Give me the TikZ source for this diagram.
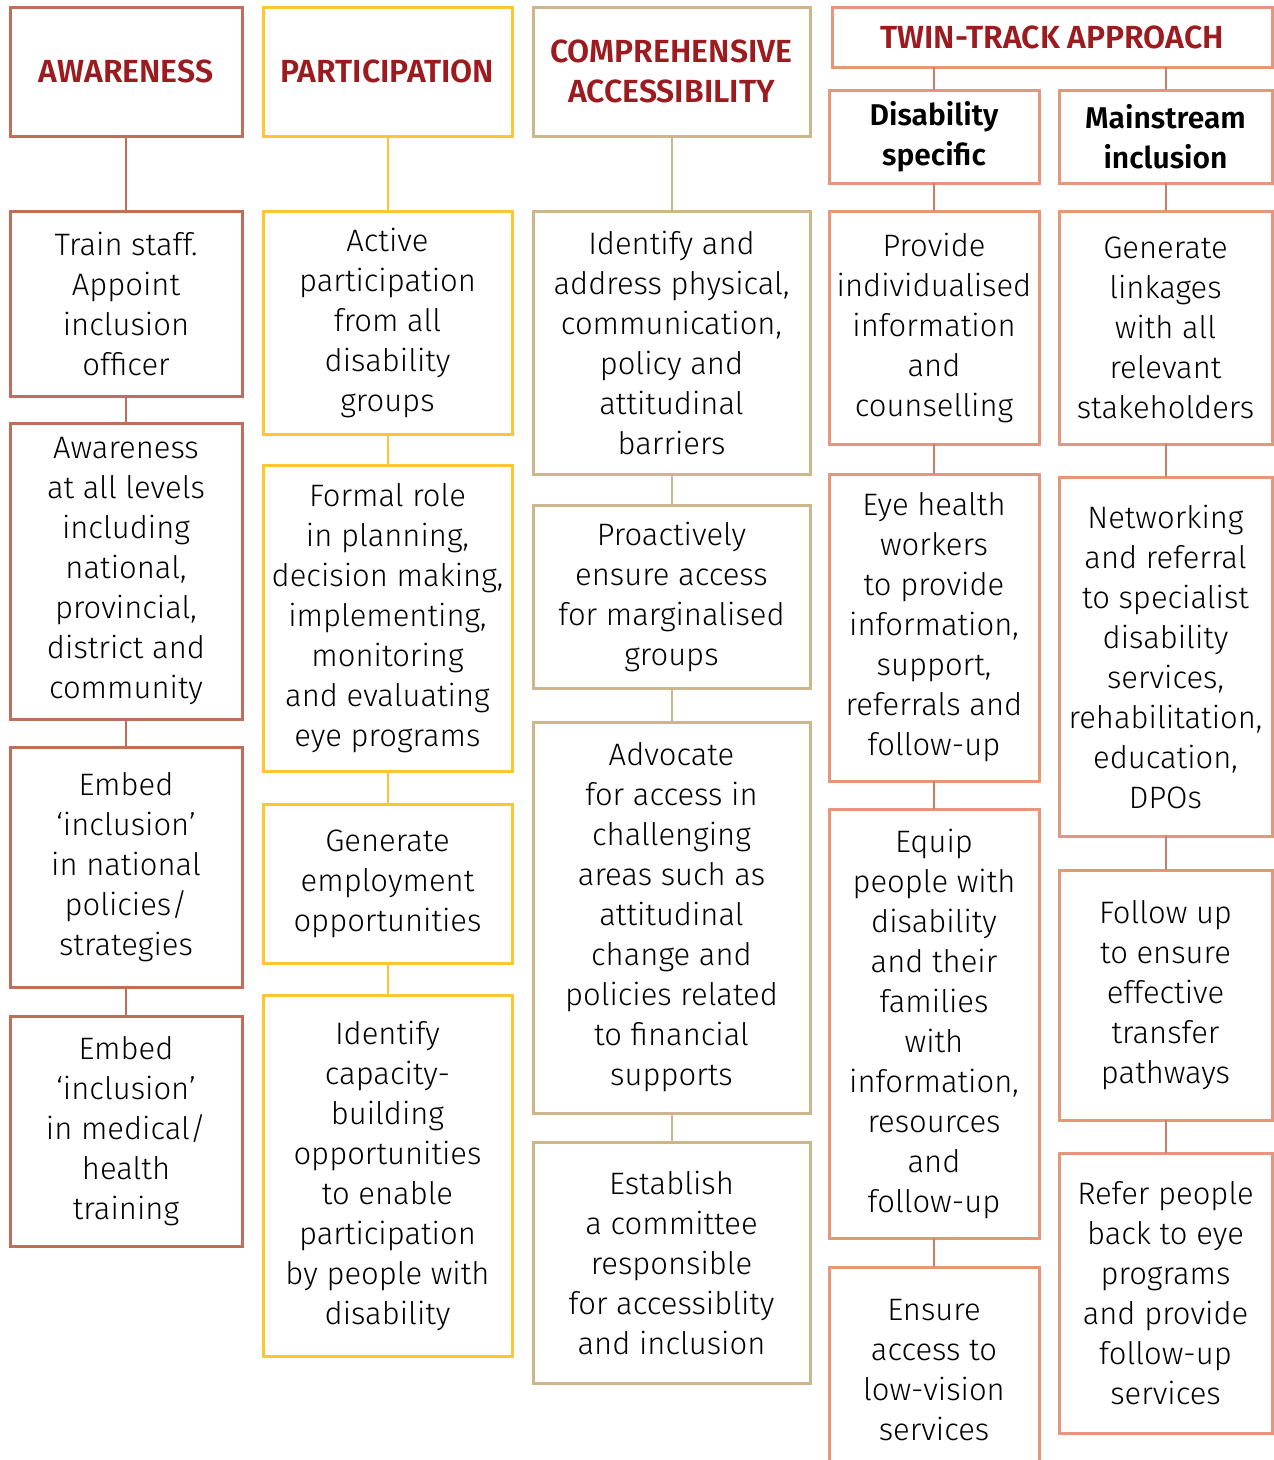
\documentclass[tikz,border=0pt]{standalone}
\usepackage{fontspec}
\setmainfont{Fira Sans}[UprightFont=* Light, BoldFont=* SemiBold]
\usepackage{tikz}
\usetikzlibrary{positioning}

\definecolor{awcol}{HTML}{BF6E5C}
\definecolor{pacol}{HTML}{FDC530}
\definecolor{cacol}{HTML}{CDB68C}
\definecolor{ttcol}{HTML}{E8967A}
\definecolor{ttline}{HTML}{C9806A}
\definecolor{headred}{HTML}{9B1B1F}

\begin{document}
\begin{tikzpicture}[x=1pt,y=-1pt,
		box/.style={draw, line width=3pt, inner sep=0pt, outer sep=0pt, align=center,
			font=\fontsize{31}{40}\selectfont, text=black},
		head/.style={box, font=\bfseries\fontsize{32}{40}\selectfont, text=headred},
		subhead/.style={box, font=\bfseries\fontsize{30}{40}\selectfont},
		awbox/.style={box, draw=awcol, minimum width=232pt},
		pabox/.style={box, draw=pacol, minimum width=249pt},
		cabox/.style={box, draw=cacol, minimum width=277pt},
		dsbox/.style={box, draw=ttcol, minimum width=210pt},
		msbox/.style={box, draw=ttcol, minimum width=213pt},
		link/.style={line width=2pt}
	]
		\useasboundingbox (0,0) rectangle (1274,1460);
		\clip (0,0) rectangle (1274,1460);

		% awareness
		\draw (126,71.5) node [awbox, head, draw=awcol, minimum height=129pt] (aw0) {AWARENESS};
		\draw (126,303.5) node [awbox, minimum height=185pt] (aw1) {Train staff.\\Appoint\\inclusion\\officer};
		\draw (126,571) node [awbox, minimum height=296pt] (aw2) {Awareness\\at all levels\\including\\national,\\provincial,\\district and\\community};
		\draw (126,867) node [awbox, minimum height=240pt] (aw3) {Embed\\‘inclusion’\\in national\\policies/\\strategies};
		\draw (126,1131) node [awbox, minimum height=230pt] (aw4) {Embed\\‘inclusion’\\in medical/\\health\\training};

		% participation
		\draw (387.5,71.5) node [pabox, head, draw=pacol, minimum height=129pt] (pa0) {PARTICIPATION};
		\draw (387.5,322.5) node [pabox, minimum height=223pt] (pa1) {Active\\participation\\from all\\disability\\groups};
		\draw (387.5,618) node [pabox, minimum height=306pt] (pa2) {Formal role\\in planning,\\decision making,\\implementing,\\monitoring\\and evaluating\\eye programs};
		\draw (387.5,883.5) node [pabox, minimum height=159pt] (pa3) {Generate\\employment\\opportunities};
		\draw (387.5,1175.5) node [pabox, minimum height=361pt] (pa4) {Identify\\capacity-\\building\\opportunities\\to enable\\participation\\by people with\\disability};

		% comprehensive accessibility
		\draw (671.5,71.5) node [cabox, head, draw=cacol, minimum height=129pt] (ca0) {COMPREHENSIVE\\ACCESSIBILITY};
		\draw (671.5,342.5) node [cabox, minimum height=263pt] (ca1) {Identify and\\address physical,\\communication,\\policy and\\attitudinal\\barriers};
		\draw (671.5,596.5) node [cabox, minimum height=183pt] (ca2) {Proactively\\ensure access\\for marginalised\\groups};
		\draw (671.5,917.5) node [cabox, minimum height=391pt] (ca3) {Advocate\\for access in\\challenging\\areas such as\\attitudinal\\change and\\policies related\\to financial\\supports};
		\draw (671.5,1262.5) node [cabox, minimum height=241pt] (ca4) {Establish\\a committee\\responsible\\for accessiblity\\and inclusion};

		% twin-track approach
		\draw (1052,37) node [box, head, draw=ttcol, minimum width=440pt, minimum height=60pt] (tt) {TWIN-TRACK APPROACH};
		\draw (934,136.5) node [dsbox, subhead, draw=ttcol, minimum height=93pt] (ds0) {Disability\\specific};
		\draw (1165.5,136.5) node [msbox, subhead, draw=ttcol, minimum height=93pt] (ms0) {Mainstream\\inclusion};

		\draw (934,327.5) node [dsbox, minimum height=233pt] (ds1) {Provide\\individualised\\information\\and\\counselling};
		\draw (934,627.5) node [dsbox, minimum height=307pt] (ds2) {Eye health\\workers\\to provide\\information,\\support,\\referrals and\\follow-up};
		\draw (934,1023.5) node [dsbox, minimum height=429pt] (ds3) {Equip\\people with\\disability\\and their\\families\\with\\information,\\resources\\and\\follow-up};
		\draw (934,1370) node [dsbox, minimum height=206pt] (ds4) {Ensure\\access to\\low-vision\\services};

		\draw (1165.5,327.5) node [msbox, minimum height=233pt] (ms1) {Generate\\linkages\\with all\\relevant\\stakeholders};
		\draw (1165.5,656.5) node [msbox, minimum height=359pt] (ms2) {Networking\\and referral\\to specialist\\disability\\services,\\rehabilitation,\\education,\\DPOs};
		\draw (1165.5,995) node [msbox, minimum height=250pt] (ms3) {Follow up\\to ensure\\effective\\transfer\\pathways};
		\draw (1165.5,1293) node [msbox, minimum height=280pt] (ms4) {Refer people\\back to eye\\programs\\and provide\\follow-up\\services};

		\draw[link, awcol]
			(aw0) edge (aw1)
			(aw1) edge (aw2)
			(aw2) edge (aw3)
			(aw3) edge (aw4)
		;
		\draw[link, pacol]
			(pa0) edge (pa1)
			(pa1) edge (pa2)
			(pa2) edge (pa3)
			(pa3) edge (pa4)
		;
		\draw[link, cacol]
			(ca0) edge (ca1)
			(ca1) edge (ca2)
			(ca2) edge (ca3)
			(ca3) edge (ca4)
		;
		\draw[link, ttline]
			(tt.south -| ds0.north) edge (ds0.north)
			(tt.south -| ms0.north) edge (ms0.north)
			(ds0) edge (ds1)
			(ds1) edge (ds2)
			(ds2) edge (ds3)
			(ds3) edge (ds4)
			(ms0) edge (ms1)
			(ms1) edge (ms2)
			(ms2) edge (ms3)
			(ms3) edge (ms4)
		;
	\end{tikzpicture}
\end{document}
